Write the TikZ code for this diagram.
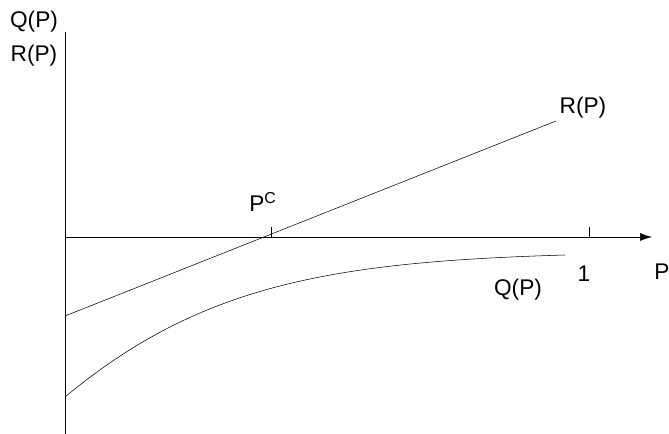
\documentclass[tikz,border=0pt]{standalone}
\usepackage{fontspec}
\setmainfont{Liberation Sans}
\usetikzlibrary{arrows.meta}

\begin{document}
\begin{tikzpicture}[x=0.75pt, y=-0.75pt, font=\fontsize{17}{20}\selectfont, lbl/.style={inner sep=0pt}]
		\useasboundingbox (0,0) rectangle (669,434);
		\coordinate (o) at (65,237);
		\coordinate (top) at (65,32);
		\coordinate (bot) at (65,434);
		\coordinate (end) at (652,237);

		\draw [thin](top) -- (bot);
		\draw [thin, -{Latex[length=9pt, width=6pt]}](o) -- (end);

		% ticks
		\coordinate (pc) at (271,237);
		\coordinate (one) at (589,237);
		\draw (pc) -- ++(0,-10);
		\draw (one) -- ++(0,-10);

		% lines
		\coordinate (r0) at (65,316);
		\coordinate (r1) at (556,121);
		\coordinate (q0) at (65,397);
		\coordinate (q1) at (565,255);
		\draw (r0) -- (r1);
		\draw (q0) .. controls (200,285) and (330,262) .. (q1);

		% labels
		\node[lbl] (qlab) at (34,22) {Q(P)};
		\node[lbl] (rlab) at (34,56) {R(P)};
		\node[lbl] (pclab) at (263,202) {P\textsuperscript{C}};
		\node[lbl] (rplab) at (583,108) {R(P)};
		\node[lbl] (onelab) at (584,274) {1};
		\node[lbl] (plab) at (662,272) {P};
		\node[lbl] (qplab) at (518,290) {Q(P)};
	\end{tikzpicture}
\end{document}
